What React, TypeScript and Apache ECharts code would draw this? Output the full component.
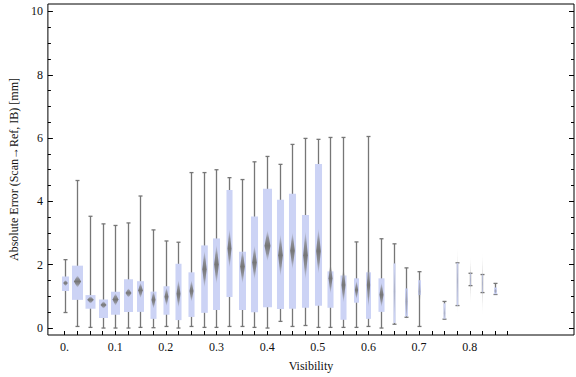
import React, { useEffect, useRef } from "react";
import * as echarts from "echarts";

// Visibility bins (x) and box-whisker statistics
const visibility = [0, 0.025, 0.05, 0.075, 0.1, 0.125, 0.15, 0.175, 0.2, 0.225, 0.25, 0.275, 0.3, 0.325, 0.35, 0.375, 0.4, 0.425, 0.45, 0.475, 0.5, 0.525, 0.55, 0.575, 0.6, 0.625, 0.65, 0.675, 0.7, 0.75, 0.775, 0.8, 0.825, 0.85];
const whiskerMin = [0.49, 0.05, 0.02, 0.0, 0.0, 0.0, 0.02, 0.01, 0.05, 0.0, 0.05, 0.02, 0.02, 0.05, 0.05, 0.02, 0.0, 0.21, 0.05, 0.08, 0.02, 0.02, 0.02, 0.02, 0.05, 0.0, 0.12, 0.34, 0.05, 0.28, 0.71, 1.34, 1.12, 1.06];
const quartile1 = [1.17, 0.89, 0.61, 0.32, 0.42, 0.51, 0.51, 0.29, 0.42, 0.25, 0.35, 0.48, 0.57, 0.98, 0.57, 0.5, 0.66, 0.6, 0.61, 0.64, 0.7, 0.64, 0.26, 0.8, 0.29, 0.51, 0.16, 0.37, 1.04, 0.29, 0.71, 1.34, 1.12, 1.07];
const centre = [1.42, 1.47, 0.89, 0.73, 0.9, 1.11, 1.19, 0.89, 0.99, 1.08, 1.17, 1.86, 2.01, 2.51, 1.94, 2.07, 2.6, 2.3, 2.44, 2.3, 2.43, 1.57, 1.36, 1.2, 1.36, 1.05, 1.16, 0.84, 1.15, 0.47, 1.49, 1.52, 1.4, 1.17];
const quartile3 = [1.63, 1.97, 1.04, 0.9, 1.15, 1.54, 1.48, 1.15, 1.32, 2.03, 1.76, 2.61, 2.83, 4.36, 2.41, 3.52, 4.4, 4.05, 4.24, 3.57, 5.18, 1.79, 1.66, 1.57, 1.76, 1.57, 2.04, 1.25, 1.51, 0.78, 2.06, 1.73, 1.69, 1.28];
const whiskerMax = [2.16, 4.66, 3.53, 3.29, 3.24, 3.32, 4.17, 3.1, 2.75, 2.71, 4.91, 4.91, 5.0, 4.75, 4.69, 5.25, 5.42, 5.17, 5.8, 5.99, 5.96, 6.02, 6.02, 2.72, 6.05, 2.82, 2.66, 1.9, 1.78, 0.84, 2.06, 1.73, 1.69, 1.41];
const centreSpread = [0.1, 0.2, 0.12, 0.12, 0.2, 0.15, 0.25, 0.29, 0.3, 0.45, 0.35, 0.6, 0.63, 0.63, 0.55, 0.55, 0.5, 0.68, 0.6, 0.78, 0.73, 0.5, 0.58, 0.3, 0.73, 0.4, 0.9, 0.63, 0.52, 0.25, 1.11, 0.77, 1.03, 0.1];
const sampleWeight = [0.64, 1.0, 0.91, 0.82, 0.82, 0.82, 0.64, 0.55, 0.55, 0.55, 0.55, 0.6, 0.64, 0.55, 0.64, 0.64, 0.82, 0.64, 0.64, 0.64, 0.64, 0.55, 0.55, 0.45, 0.45, 0.55, 0.18, 0.27, 0.27, 0.18, 0.14, 0.09, 0.09, 0.27];

const xTicks = [0, 0.025, 0.05, 0.075, 0.1, 0.125, 0.15, 0.175, 0.2, 0.225, 0.25, 0.275, 0.3, 0.325, 0.35, 0.375, 0.4, 0.425, 0.45, 0.475, 0.5, 0.525, 0.55, 0.575, 0.6, 0.625, 0.65, 0.675, 0.7, 0.725, 0.75, 0.775, 0.8, 0.825, 0.85, 0.875];
const xTickLabels = [0, 0.1, 0.2, 0.3, 0.4, 0.5, 0.6, 0.7, 0.8];
const yTickLabels = [0, 2, 4, 6, 8, 10];
const yMinorTicks = [0.5, 1, 1.5, 2.5, 3, 3.5, 4.5, 5, 5.5, 6.5, 7, 7.5, 8.5, 9, 9.5];

const X_MIN = -0.0328;
const X_MAX = 1.0058;
const Y_MIN = -0.22;
const Y_MAX = 10.235;

const FONT = "'Liberation Serif', 'Times New Roman', serif";

export default function App() {
  const ref = useRef<HTMLDivElement>(null);
  useEffect(() => {
    if (!ref.current) return;
    const chart = echarts.init(ref.current, null, { renderer: "svg" });
    const data = visibility.map((x, i) => [
      x, whiskerMin[i], quartile1[i], centre[i], quartile3[i], whiskerMax[i], centreSpread[i], sampleWeight[i],
    ]);
    const whiskerColor = "#767676";
    const renderItem = (params: any, api: any) => {
      const x = api.value(0);
      const pMin = api.coord([x, api.value(1)]);
      const pQ1 = api.coord([x, api.value(2)]);
      const pC = api.coord([x, api.value(3)]);
      const pQ3 = api.coord([x, api.value(4)]);
      const pMax = api.coord([x, api.value(5)]);
      const spread = api.value(6);
      const pTop = api.coord([x, api.value(3) + spread]);
      const pBot = api.coord([x, api.value(3) - spread]);
      const wt = api.value(7);
      const boxW = Math.max(1, 11 * wt);
      const cx = Math.round(pC[0]) + 0.5;
      const capHalf = 2;
      const diaHalf = Math.max(0.5, boxW * 0.33);
      const alpha = wt < 0.2 ? 0.35 : wt < 0.3 ? 0.55 : 1;
      const lineStyle = { stroke: whiskerColor, lineWidth: 1.3 };
      return {
        type: "group",
        children: [
          { type: "line", shape: { x1: cx, y1: pMax[1], x2: cx, y2: pMin[1] }, style: lineStyle },
          { type: "line", shape: { x1: cx - capHalf, y1: pMax[1], x2: cx + capHalf, y2: pMax[1] }, style: lineStyle },
          { type: "line", shape: { x1: cx - capHalf, y1: pMin[1], x2: cx + capHalf, y2: pMin[1] }, style: lineStyle },
          {
            type: "rect",
            shape: { x: cx - boxW / 2, y: pQ3[1], width: boxW, height: Math.max(0.5, pQ1[1] - pQ3[1]) },
            style: { fill: "#ccd3f5" },
          },
          {
            type: "polygon",
            shape: {
              points: [
                [cx, pTop[1]],
                [cx + diaHalf, pC[1]],
                [cx, pBot[1]],
                [cx - diaHalf, pC[1]],
              ],
            },
            style: {
              opacity: alpha,
              fill: {
                type: "linear", x: 0, y: 0, x2: 0, y2: 1,
                colorStops: [
                  { offset: 0, color: "rgba(125,125,125,0)" },
                  { offset: 0.25, color: "rgba(125,125,125,0.75)" },
                  { offset: 0.5, color: "rgba(118,118,118,1)" },
                  { offset: 0.75, color: "rgba(125,125,125,0.75)" },
                  { offset: 1, color: "rgba(125,125,125,0)" },
                ],
              },
            },
          },
        ],
      };
    };

    const labelStyle = { fontFamily: FONT, fontSize: 12, color: "#111" };
    const baseY = {
      type: "value" as const,
      min: Y_MIN,
      max: Y_MAX,
      splitLine: { show: false },
      axisLine: { show: false, onZero: false },
    };

    chart.setOption({
      animation: false,
      backgroundColor: "#fff",
      grid: { left: 36, right: 2, top: 4, bottom: 40, show: true, borderColor: "#000", borderWidth: 1, backgroundColor: "transparent" },
      xAxis: [
        {
          type: "value",
          position: "bottom",
          min: X_MIN,
          max: X_MAX,
          splitLine: { show: false },
          axisLine: { show: false, onZero: false },
          axisTick: { show: true, inside: true, length: 4, customValues: xTicks, lineStyle: { color: "#000" } },
          axisLabel: {
            ...labelStyle,
            margin: 6,
            customValues: xTickLabels,
            formatter: (v: number) => (v === 0 ? "0." : String(+v.toFixed(3))),
          },
          name: "Visibility",
          nameLocation: "middle",
          nameGap: 25,
          nameTextStyle: { ...labelStyle },
        },
      ],
      yAxis: [
        {
          ...baseY,
          position: "left",
          axisTick: { show: true, inside: true, length: 5, customValues: yTickLabels, lineStyle: { color: "#000" } },
          axisLabel: { ...labelStyle, margin: 5, customValues: yTickLabels, formatter: (v: number) => String(v) },
          name: "Absolute Error (Scan\u2192Ref, IB) [mm]",
          nameLocation: "middle",
          nameGap: 22,
          nameRotate: 90,
          nameTextStyle: { ...labelStyle },
        },
        {
          ...baseY,
          position: "left",
          axisTick: { show: true, inside: true, length: 3, customValues: yMinorTicks, lineStyle: { color: "#000" } },
          axisLabel: { show: false },
        },
        {
          ...baseY,
          position: "right",
          axisTick: { show: true, inside: true, length: 5, customValues: yTickLabels, lineStyle: { color: "#000" } },
          axisLabel: { show: false },
        },
        {
          ...baseY,
          position: "right",
          axisTick: { show: true, inside: true, length: 3, customValues: yMinorTicks, lineStyle: { color: "#000" } },
          axisLabel: { show: false },
        },
      ],
      series: [
        {
          type: "custom",
          xAxisIndex: 0,
          yAxisIndex: 0,
          renderItem,
          encode: { x: 0, y: [1, 5] },
          data,
          clip: false,
        },
      ],
    });
    return () => chart.dispose();
  }, []);
  return <div ref={ref} style={{ position: "fixed", left: 0, top: 0, width: 576, height: 377 }} />;
}
